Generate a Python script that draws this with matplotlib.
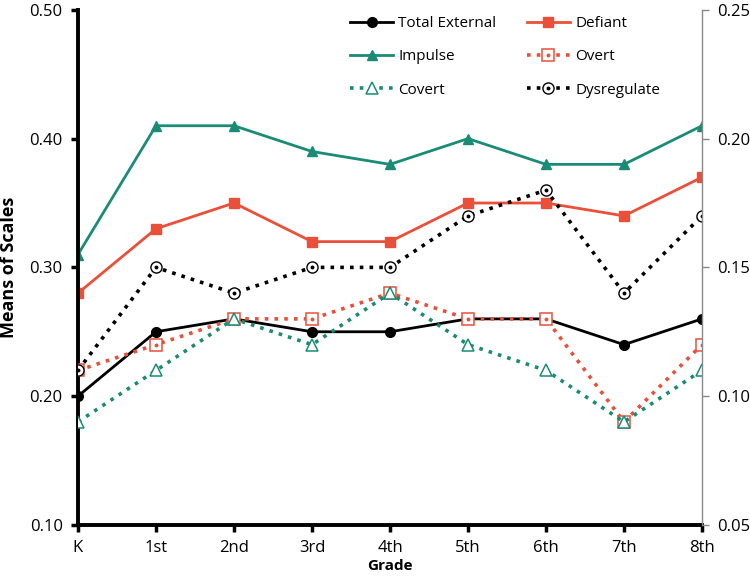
import matplotlib.pyplot as plt
from matplotlib.legend_handler import HandlerTuple

plt.rcParams['font.family'] = ['Open Sans', 'DejaVu Sans']

grades = ["K", "1st", "2nd", "3rd", "4th", "5th", "6th", "7th", "8th"]

# left axis scales
total_external = [0.20, 0.25, 0.26, 0.25, 0.25, 0.26, 0.26, 0.24, 0.26]
defiant = [0.28, 0.33, 0.35, 0.32, 0.32, 0.35, 0.35, 0.34, 0.37]
impulse = [0.31, 0.41, 0.41, 0.39, 0.38, 0.40, 0.38, 0.38, 0.41]

# right axis scales
overt = [0.11, 0.12, 0.13, 0.13, 0.14, 0.13, 0.13, 0.09, 0.12]
covert = [0.09, 0.11, 0.13, 0.12, 0.14, 0.12, 0.11, 0.09, 0.11]
dysregulate = [0.11, 0.15, 0.14, 0.15, 0.15, 0.17, 0.18, 0.14, 0.17]

teal = "#1a8c76"
red = "#ea4f3a"
dot = (0, (1, 1.7))

x = list(range(len(grades)))

fig = plt.figure(figsize=(7.5, 5.8), dpi=100)
ax = fig.add_axes([0.104, 0.095, 0.832, 0.888])
ax2 = ax.twinx()

h_tot, = ax.plot(x, total_external, color="black", lw=2, marker="o", ms=7)
h_def, = ax.plot(x, defiant, color=red, lw=2, marker="s", ms=6.5)
h_imp, = ax.plot(x, impulse, color=teal, lw=2, marker="^", ms=7.5)

h_ovt, = ax2.plot(x, overt, color=red, lw=2.6, ls=dot, marker="s", ms=8,
                  mfc="white", mec=red, mew=1.1)
h_ovt_c, = ax2.plot(x, overt, ls="none", marker="o", ms=1.8, color=red)
h_cov, = ax2.plot(x, covert, color=teal, lw=2.6, ls=dot, marker="^", ms=9,
                  mfc="white", mec=teal, mew=1.1)
h_dys, = ax2.plot(x, dysregulate, color="black", lw=2.6, ls=dot, marker="o", ms=8,
                  mfc="white", mec="black", mew=1.0)
h_dys_c, = ax2.plot(x, dysregulate, ls="none", marker="o", ms=1.8, color="black")

ax.set_xlim(0, 8)
ax.set_ylim(0.10, 0.50)
ax.set_yticks([0.10, 0.20, 0.30, 0.40, 0.50])
ax.set_yticklabels(["0.10", "0.20", "0.30", "0.40", "0.50"])
ax2.set_ylim(0.05, 0.25)
ax2.set_yticks([0.05, 0.10, 0.15, 0.20, 0.25])
ax2.set_yticklabels(["0.05", "0.10", "0.15", "0.20", "0.25"])
ax.set_xticks(x)
ax.set_xticklabels(grades)

for a in (ax, ax2):
    a.spines["top"].set_visible(False)
ax.spines["left"].set_linewidth(2.8)
ax.spines["bottom"].set_linewidth(2.8)
ax.spines["right"].set_visible(False)
ax2.spines["left"].set_visible(False)
ax2.spines["bottom"].set_visible(False)
ax2.spines["right"].set_color("#888888")
ax2.spines["right"].set_linewidth(1)

ax.tick_params(axis="both", direction="out", length=5, width=2.5, labelsize=12, pad=6)
ax2.tick_params(axis="y", direction="out", length=5, width=1, color="#888888",
                labelsize=12, pad=6)

ax.set_ylabel("Means of Scales", fontsize=13, fontweight="bold", labelpad=8)
ax.set_xlabel("Grade", fontsize=11, fontweight="bold", labelpad=2)

handles = [h_tot, h_imp, h_cov, h_def, (h_ovt, h_ovt_c), (h_dys, h_dys_c)]
labels = ["Total External", "Impulse", "Covert", "Defiant", "Overt", "Dysregulate"]
ax2.legend(handles, labels, ncol=2, loc="upper right", bbox_to_anchor=(0.955, 1.015),
           frameon=False, fontsize=11, handlelength=2.8, columnspacing=2.0,
           labelspacing=1.2, handletextpad=0.35,
           handler_map={tuple: HandlerTuple(ndivide=1, pad=0)})

fig.savefig("out.png", dpi=100)
